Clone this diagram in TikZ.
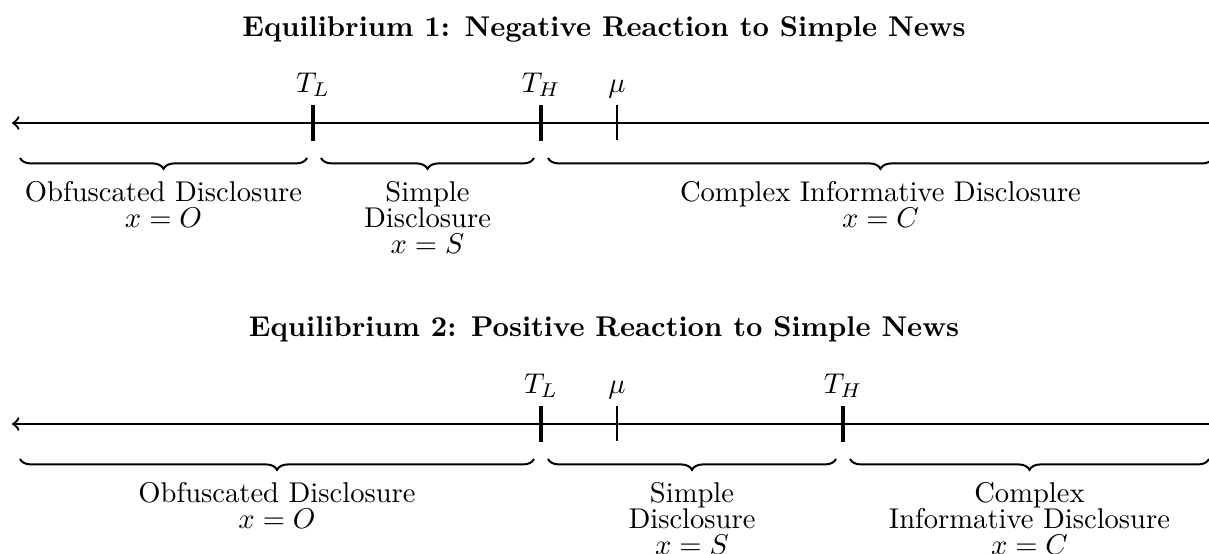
\documentclass[tikz,border=0pt]{standalone}
\usetikzlibrary{decorations.pathreplacing}
\begin{document}
\begin{tikzpicture}[x=0.35pt,y=-0.35pt,
 axis/.style={line width=0.8pt},
 thicktick/.style={line width=1.6pt},
 thintick/.style={line width=0.5pt},
 brc/.style={decorate,decoration={brace,mirror,amplitude=3.8pt},line width=0.7pt},
 lbl/.style={anchor=base, inner sep=0pt},
 txt/.style={anchor=north, align=center, inner sep=0pt, font=\fontsize{10}{9.1}\selectfont},
 ttl/.style={anchor=base, inner sep=0pt, font=\bfseries}]
\useasboundingbox (0,0) rectangle (1209,554);
\clip (0,0) rectangle (1209,554);
% ---------- Equilibrium 1 ----------
\node[ttl] (title1) at (604,36) {Equilibrium 1: Negative Reaction to Simple News};
\coordinate (r1) at (1215,123);
\coordinate (l1) at (12,123);
\draw[axis,->] (r1) -- (l1);
\coordinate (tla) at (313,105); \coordinate (tlb) at (313,141);
\coordinate (tha) at (541,105); \coordinate (thb) at (541,141);
\coordinate (mua) at (617,105); \coordinate (mub) at (617,140);
\draw[thicktick] (tla) -- (tlb);
\draw[thicktick] (tha) -- (thb);
\draw[thintick] (mua) -- (mub);
\node[lbl] (TL1) at (313,92) {$T_L$};
\node[lbl] (TH1) at (541,92) {$T_H$};
\node[lbl] (mu1) at (617,92) {$\mu$};
\coordinate (b1a) at (20,158); \coordinate (b1b) at (307,158);
\coordinate (b2a) at (321,158); \coordinate (b2b) at (534,158);
\coordinate (b3a) at (548,158); \coordinate (b3b) at (1213,158);
\draw[brc] (b1a) -- (b1b);
\draw[brc] (b2a) -- (b2b);
\draw[brc] (b3a) -- (b3b);
\node[txt] (o1) at (163.5,181) {Obfuscated Disclosure\\$x=O$};
\node[txt] (s1) at (427.5,181) {Simple\\Disclosure\\$x=S$};
\node[txt] (c1) at (880.5,181) {Complex Informative Disclosure\\$x=C$};
% ---------- Equilibrium 2 ----------
\node[ttl] (title2) at (604,336) {Equilibrium 2: Positive Reaction to Simple News};
\coordinate (r2) at (1215,424);
\coordinate (l2) at (12,424);
\draw[axis,->] (r2) -- (l2);
\coordinate (tlc) at (541,406); \coordinate (tld) at (541,442);
\coordinate (muc) at (617,406); \coordinate (mud) at (617,441);
\coordinate (thc) at (843,406); \coordinate (thd) at (843,442);
\draw[thicktick] (tlc) -- (tld);
\draw[thintick] (muc) -- (mud);
\draw[thicktick] (thc) -- (thd);
\node[lbl] (TL2) at (541,393) {$T_L$};
\node[lbl] (mu2) at (617,393) {$\mu$};
\node[lbl] (TH2) at (843,393) {$T_H$};
\coordinate (c1a) at (20,459); \coordinate (c1b) at (534,459);
\coordinate (c2a) at (548,459); \coordinate (c2b) at (836,459);
\coordinate (c3a) at (850,459); \coordinate (c3b) at (1209,459);
\draw[brc] (c1a) -- (c1b);
\draw[brc] (c2a) -- (c2b);
\draw[brc] (c3a) -- (c3b);
\node[txt] (o2) at (277,482) {Obfuscated Disclosure\\$x=O$};
\node[txt] (s2) at (692,482) {Simple\\Disclosure\\$x=S$};
\node[txt] (c2) at (1029.5,482) {Complex\\Informative Disclosure\\$x=C$};
\end{tikzpicture}
\end{document}
